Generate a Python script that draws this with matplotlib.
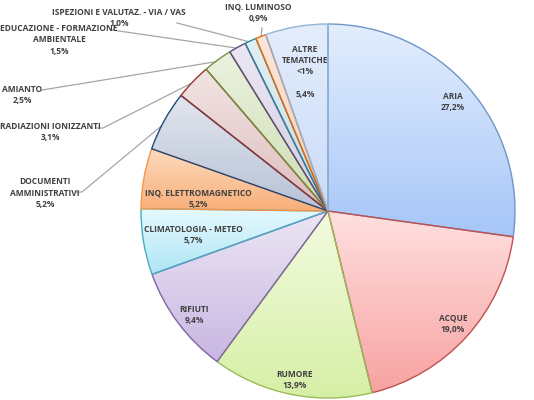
import numpy as np
import matplotlib
matplotlib.use("Agg")
import matplotlib.pyplot as plt
from matplotlib.colors import LinearSegmentedColormap

# ---------------- DATI ----------------
labels = ["ARIA", "ACQUE", "RUMORE", "RIFIUTI", "CLIMATOLOGIA - METEO",
          "INQ. ELETTROMAGNETICO", "DOCUMENTI\nAMMINISTRATIVI",
          "RADIAZIONI IONIZZANTI", "AMIANTO",
          "EDUCAZIONE - FORMAZIONE\nAMBIENTALE",
          "ISPEZIONI E VALUTAZ. - VIA / VAS", "INQ. LUMINOSO",
          "ALTRE\nTEMATICHE\n<1%\n"]
values = [27.2, 19.0, 13.9, 9.4, 5.7, 5.2, 5.2, 3.1, 2.5, 1.5, 1.0, 0.9, 5.4]

# colori: (chiaro in alto, scuro in basso, bordo)
top_cols = ["#E3EEFD", "#FFE0E0", "#F3FBE0", "#ECE6F4", "#E6F9FE", "#FDDCC0",
            "#E2E6EE", "#F2E4E4", "#ECF2E0", "#ECE8F2", "#E2F0F3", "#FDE6DA", "#E3EDFC"]
bot_cols = ["#A6C6F8", "#F8A2A2", "#D6EFA6", "#C8B6E2", "#AEE6F6", "#F8AE78",
            "#B6C2D6", "#DEBCBC", "#CCDDB2", "#D2CCE0", "#C0DEE6", "#F8CCB8", "#CADCF8"]
edge_cols = ["#6F96C8", "#C0504D", "#9BBB59", "#8064A2", "#4BACC6", "#F79646",
             "#1F497D", "#943634", "#76923C", "#5F497A", "#31859C", "#E46C0A", "#95B3D7"]

# posizioni etichette (pixel) e linee guida
CX, CY, R = 328, 211, 187
W, H = 534, 400

def px(x, y):
    return ((x - CX) / R, (CY - y) / R)

label_pos = [(453, 102), (453, 324), (295, 380), (194, 315), (193, 235),
             (198, 199), (45, 193), (50, 132), (22, 95), (59, 40),
             (119, 18), (258, 13), (305, 72)]
leaders = {6: [(76, 192), (82, 192), (165, 123)],
           7: [(97, 128), (103, 128), (190, 84)],
           8: [(42, 90), (214, 62)],
           9: [(112, 30), (236, 48)],
           10: [(177, 23), (250, 42)],
           11: [(262, 28), (261, 37)]}

fig = plt.figure(figsize=(W / 100, H / 100), dpi=100)
ax = fig.add_axes([0, 0, 1, 1])
ax.axis("off")

wedges, _ = ax.pie(values, startangle=90, counterclock=False, radius=1,
                   wedgeprops=dict(linewidth=1.0))

for i, w in enumerate(wedges):
    w.set_facecolor("none")
    w.set_edgecolor(edge_cols[i])
    w.set_zorder(3)
    ext = w.get_path().get_extents()
    cmap = LinearSegmentedColormap.from_list("g%d" % i, [top_cols[i], bot_cols[i]])
    grad = np.linspace(0, 1, 256).reshape(-1, 1)
    im = ax.imshow(grad, cmap=cmap, extent=[ext.x0, ext.x1, ext.y0, ext.y1],
                   aspect="auto", zorder=2, interpolation="bilinear")
    im.set_clip_path(w)

for i, (lab, v) in enumerate(zip(labels, values)):
    x, y = px(*label_pos[i])
    txt = lab + "\n" + ("%.1f%%" % v).replace(".", ",")
    ax.text(x, y, txt, ha="center", va="center", fontsize=6.0,
            fontweight="bold", color="#404040", family="Open Sans",
            linespacing=1.3, zorder=5)

for i, pts in leaders.items():
    xs, ys = zip(*[px(*p) for p in pts])
    ax.plot(xs, ys, color="#A6A6A6", linewidth=0.9, zorder=1)

ax.set_xlim(-CX / R, (W - CX) / R)
ax.set_ylim((CY - H) / R, CY / R)
ax.set_aspect("equal")

fig.savefig("out.png", dpi=100)
